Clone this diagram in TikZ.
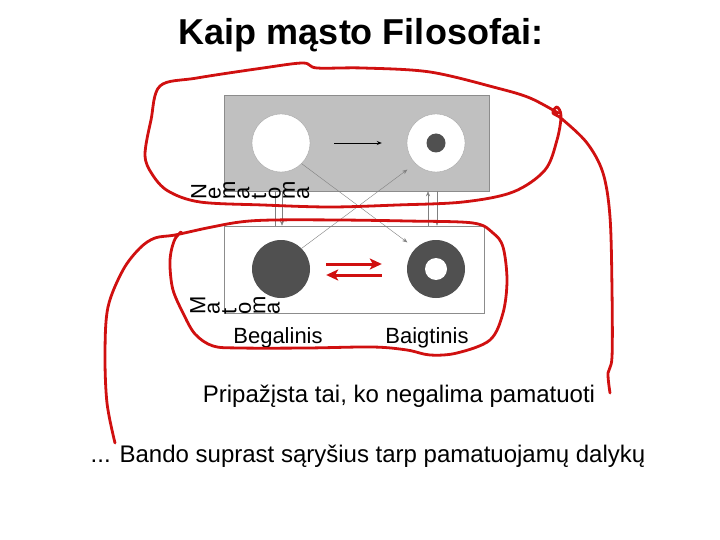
\documentclass[tikz,border=0pt]{standalone}
\usepackage{fontspec}
\setmainfont{Liberation Sans}
\usetikzlibrary{arrows.meta, positioning}
\definecolor{pen}{RGB}{208,16,16}
\definecolor{dark}{RGB}{80,80,80}
\definecolor{shade}{RGB}{192,192,192}

\begin{document}
\begin{tikzpicture}[x=1pt, y=-1pt]
\tikzstyle{panel} = [rectangle, inner sep=0pt, draw=black!45, line width=0.5pt]
\tikzstyle{disc} = [circle, minimum size=58pt, inner sep=0pt]
\tikzstyle{thin} = [draw=black!50, line width=0.4pt]
\tikzstyle{tip} = [-{Stealth[length=5pt,width=4pt]}]
\tikzstyle{redarrow} = [pen, line width=3pt, -{Stealth[length=12pt,width=11pt,inset=3pt]}]
\tikzstyle{stroke} = [pen, line width=2.8pt, line cap=round, line join=round]
\tikzstyle{letter} = [rotate=90, anchor=north west, inner sep=0pt, font=\fontsize{22}{22}\selectfont]

\useasboundingbox (0,0) rectangle (720,540);

% title
\node (title) [anchor=base, font=\fontsize{36}{36}\selectfont\bfseries] at (361,45) {Kaip mąsto Filosofai:};

% panels
\node (nemat) [panel, fill=shade, minimum width=265pt, minimum height=96pt] at (356.5,143) {};
\node (mat) [panel, fill=white, minimum width=260pt, minimum height=87pt] at (354,269.5) {};

% circles
\node (infin) [disc, fill=white, draw=black!35, line width=0.4pt] at (281,143) {};
\node (finin) [disc, fill=white, draw=black!35, line width=0.4pt] at (436,143) {};
\node (dotin) [circle, fill=dark, minimum size=19pt, inner sep=0pt] at (finin) {};
\node (infmat) [disc, fill=dark] at (281,269) {};
\node (finmat) [disc, fill=dark] at (436,269) {};
\node (holemat) [circle, fill=white, minimum size=22pt, inner sep=0pt] at (finmat) {};

% arrows
\draw [black, line width=0.8pt, tip, shorten <=24pt, shorten >=25pt] (infin) -- (finin);
\draw [redarrow, shorten <=16pt, shorten >=25pt] ([yshift=5pt]infmat.east) -- ([yshift=5pt]finmat.west);
\draw [redarrow, shorten <=25pt, shorten >=16pt] ([yshift=-6pt]finmat.west) -- ([yshift=-6pt]infmat.east);
\draw [thin, tip, shorten >=10pt] (infin.-45) -- (finmat.135);
\draw [thin, tip, shorten >=10pt] (infmat.45) -- (finin.-135);
\draw [thin] ([xshift=-6pt]infin.center |- nemat.south) -- ([xshift=-6pt]infin.center |- mat.north);
\draw [thin, tip] ([xshift=1pt]infin.center |- nemat.south) -- ([xshift=1pt]infin.center |- mat.north);
\draw [thin, tip] ([xshift=-8pt]finin.center |- mat.north) -- ([xshift=-8pt]finin.center |- nemat.south);
\draw [thin, tip] ([xshift=1pt]finin.center |- nemat.south) -- ([xshift=1pt]finin.center |- mat.north);

% side labels, one turned letter after the other
\node (nem1) [letter] at (191,200) {N};
\foreach \ch [count=\i from 2] in {e,m,a,t,o,m,a} {
  \pgfmathtruncatemacro{\j}{\i-1}
  \node (nem\i) [letter] at ([xshift=2pt]nem\j.south west) {\ch};
}
\node (mat1) [letter] at (190,315) {M};
\foreach \ch [count=\i from 2] in {a,t,o,m,a} {
  \pgfmathtruncatemacro{\j}{\i-1}
  \node (mat\i) [letter] at ([xshift=2pt]mat\j.south west) {\ch};
}
\node (begal) [anchor=base, font=\fontsize{22}{22}\selectfont] at (278,343) {Begalinis};
\node (baigt) [anchor=base, font=\fontsize{22}{22}\selectfont] at (427,343) {Baigtinis};

% notes
\node (note1) [anchor=base, font=\fontsize{24}{24}\selectfont] at (399,402) {Pripažįsta tai, ko negalima pamatuoti};
\node (note2) [anchor=base, font=\fontsize{24}{24}\selectfont] at (368,462) {... Bando suprast sąryšius tarp pamatuojamų dalykų};

% pen strokes
\draw [stroke] plot[smooth, tension=0.55] coordinates {(558,113) (530,98) (497,88) (430,72) (363,68) (317,68) (303,63) (263,68) (197,78) (160,86) (151,120) (145,155) (152,174) (168,191) (200,202) (263,205) (330,207) (397,205) (463,202) (513,192) (545,170) (557,140) (561,116) (557,107) (553,113) (562,119) (587,143) (603,173) (610,217) (612,290) (612,357) (608,373) (610,393)};
\draw [stroke] plot[smooth, tension=0.55] coordinates {(181,232) (175,239) (171,252) (170,267) (173,290) (183,313) (195,334) (213,346) (240,348) (307,348) (373,347) (407,350) (430,355) (457,353) (490,340) (503,313) (507,280) (503,247) (493,233) (473,223) (407,221) (340,220) (273,220) (240,222) (207,228) (175,235) (155,238) (140,248) (123,270) (108,307) (105,353) (107,403) (115,443)};
\end{tikzpicture}
\end{document}
